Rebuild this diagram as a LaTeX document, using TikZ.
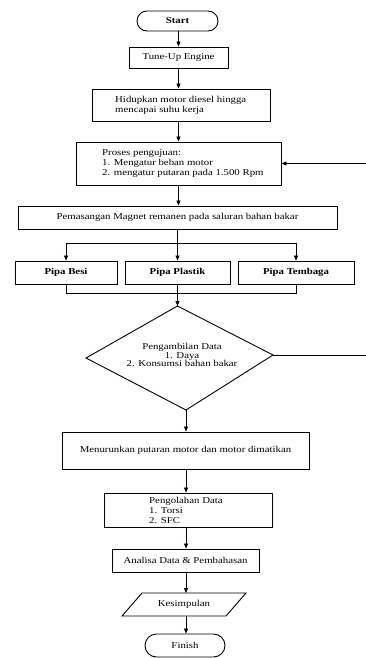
\documentclass[tikz,border=0pt]{standalone}
\usepackage{fontspec}
\setmainfont{Liberation Serif}[FakeStretch=1.2]
\usetikzlibrary{arrows.meta,shapes.misc,calc}
\begin{document}
\begin{tikzpicture}[x=1pt,y=-1pt,
  font=\fontsize{9}{10}\selectfont,
  box/.style={draw, line width=0.9pt, inner sep=0pt},
  term/.style={draw, rounded rectangle, line width=0.9pt, inner sep=0pt, font=\fontsize{9}{10}\selectfont\bfseries},
  txt/.style={inner sep=0pt, align=left, anchor=west},
  arr/.style={-{Triangle[length=5pt,width=4pt]}, line width=0.7pt},
  ln/.style={line width=0.7pt}]
\useasboundingbox (0,0) rectangle (365,658);

\node[term, minimum width=81, minimum height=20] (start) at (177.5,21) {Start};
\node[box, minimum width=99, minimum height=21] (tune) at (178.5,57.5) {Tune-Up Engine};
\node[box, minimum width=178, minimum height=32] (hid) at (181,105) {};
\node[txt] (hidT) at (115,105) {Hidupkan motor diesel hingga\\mencapai suhu kerja};
\node[box, minimum width=205, minimum height=43] (pro) at (178.5,163.5) {};
\node[txt] (proT) at (102,163.5) {Proses pengujuan:\\1. Mengatur beban motor\\2. mengatur putaran pada 1.500 Rpm};
\node[box, minimum width=319, minimum height=23] (pem) at (177.5,217.5) {Pemasangan Magnet remanen pada saluran bahan bakar};
\node[box, minimum width=102, minimum height=23, font=\fontsize{9}{10}\selectfont\bfseries] (besi) at (66,272.5) {Pipa Besi};
\node[box, minimum width=105, minimum height=23, font=\fontsize{9}{10}\selectfont\bfseries] (plas) at (177.5,272.5) {Pipa Plastik};
\node[box, minimum width=116, minimum height=23, font=\fontsize{9}{10}\selectfont\bfseries] (temb) at (296,272.5) {Pipa Tembaga};

\coordinate (dT) at (177.5,306);
\coordinate (dR) at (273,355);
\coordinate (dB) at (186,410);
\coordinate (dL) at (86,358);
\draw[box] (dT) -- (dR) -- (dB) -- (dL) -- cycle;
\node[inner sep=0pt, align=center, font=\fontsize{9}{8.2}\selectfont] (dT1) at (182,355) {Pengambilan Data\\1. Daya\\2. Konsumsi bahan bakar};

\node[box, minimum width=247, minimum height=37] (men) at (185.5,450.5) {Menurunkan putaran motor dan motor dimatikan};
\node[box, minimum width=168, minimum height=34] (peng) at (188,510) {};
\node[txt] (pengT) at (149,510) {Pengolahan Data\\1. Torsi\\2. SFC};
\node[box, minimum width=147, minimum height=23] (anal) at (185.5,560.5) {Analisa Data \& Pembahasan};
\coordinate (k1) at (142,593);
\coordinate (k2) at (246,593);
\coordinate (k3) at (226,616);
\coordinate (k4) at (122,616);
\draw[box] (k1) -- (k2) -- (k3) -- (k4) -- cycle;
\node[inner sep=0pt] (kes) at (184,604.5) {Kesimpulan};
\node[term, minimum width=80, minimum height=23, font=\fontsize{9}{10}\selectfont] (fin) at (185,645.5) {Finish};

% connectors upper
\draw[arr] (tune.north |- start.south) -- (tune.north);
\draw[arr] (tune.south) -- (tune.south |- hid.north);
\draw[arr] (tune.south |- hid.south) -- (tune.south |- pro.north);
\draw[arr] (tune.south |- pro.south) -- (tune.south |- pem.north);
\coordinate (sp) at ($(pem.south)+(0,14)$);
\draw[ln] (pem.south) -- (sp);
\draw[ln] (besi.north |- sp) -- (temb.north |- sp);
\draw[arr] (besi.north |- sp) -- (besi.north);
\draw[arr] (sp) -- (sp |- plas.north);
\draw[arr] (temb.north |- sp) -- (temb.north);
\coordinate (mg) at ($(plas.south)+(0,9)$);
\draw[ln] (besi.south) |- (mg) -| (temb.south);
\draw[arr] (plas.south) -- (dT);
% feedback
\coordinate (fb) at (368,355);
\draw[arr] (dR) -- (fb) |- (pro.east);
% lower
\draw[arr] (dB) -- (dB |- men.north);
\draw[arr] (dB |- men.south) -- (dB |- peng.north);
\draw[arr] (dB |- peng.south) -- (dB |- anal.north);
\draw[arr] (dB |- anal.south) -- (dB |- k1);
\draw[arr] (dB |- k4) -- (dB |- fin.north);
\end{tikzpicture}
\end{document}
